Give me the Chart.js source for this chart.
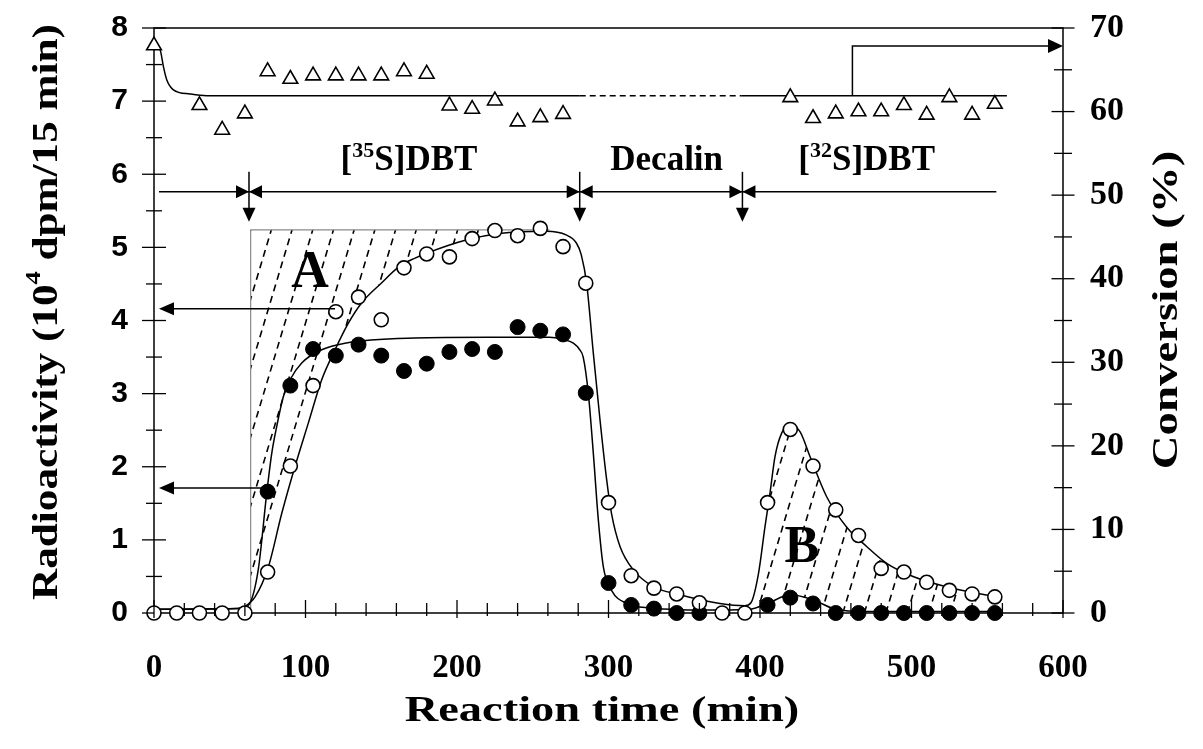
<!DOCTYPE html>
<html><head><meta charset="utf-8">
<script src="https://cdn.jsdelivr.net/npm/chart.js@4/dist/chart.umd.min.js"></script>
<style>html,body{margin:0;padding:0;background:#fff;}#wrap{width:1203px;height:749px;}</style>
</head><body><div id="wrap"><canvas id="c" width="1203" height="749"></canvas></div>
<script>
// ---- data ----
const xTicks = [0,100,200,300,400,500,600];
const yLeftTicks = [0,1,2,3,4,5,6,7,8];
const yRightTicks = [0,10,20,30,40,50,60,70];

const openT = [0,15,30,45,60,75,90,105,120,135,150,165,180,195,210,225,240,255,270,285,300,315,330,345,360,375,390,405,420,435,450,465,480,495,510,525,540,555];
const openR = [0,0,0,0,0,0.56,2.01,3.11,4.12,4.32,4.01,4.72,4.91,4.87,5.12,5.23,5.16,5.26,5.01,4.51,1.51,0.51,0.34,0.26,0.14,0,0,1.51,2.51,2.01,1.41,1.06,0.61,0.56,0.42,0.31,0.26,0.22];

const filledT = [75,90,105,120,135,150,165,180,195,210,225,240,255,270,285,300,315,330,345,360,405,420,435,450,465,480,495,510,525,540,555];
const filledR = [1.66,3.11,3.61,3.52,3.67,3.52,3.31,3.41,3.57,3.61,3.57,3.91,3.86,3.81,3.01,0.41,0.11,0.06,0,0,0.11,0.21,0.13,0,0,0,0,0,0,0,0];

const convT = [0,30,45,60,75,90,105,120,135,150,165,180,195,210,225,240,255,270,420,435,450,465,480,495,510,525,540,555];
const convV = [67.9,60.75,57.8,59.75,64.8,63.9,64.3,64.3,64.3,64.3,64.8,64.5,60.7,60.3,61.3,58.8,59.3,59.7,61.7,59.2,59.75,60.0,60.0,60.75,59.6,61.7,59.6,60.9];

const openFitT = [0,55,60,66.7,75.5,84.3,93,101.9,110.7,119.5,128.2,137,150,162,172,180,206,228,259,272,278.8,282,285.6,290,294.4,298.8,302,307.6,316.4,329.6,347,373.6,390,394,399,403.3,406.6,409.9,414.3,419.8,426.4,433,444,457,470.4,483.6,501,523,556];
const openFitV = [0.05,0.06,0.09,0.22,0.63,1.36,2.0,2.6,3.19,3.6,3.96,4.24,4.51,4.74,4.85,4.92,5.1,5.19,5.22,5.17,5.06,4.9,4.5,3.55,2.64,1.82,1.36,0.91,0.59,0.36,0.25,0.13,0.1,0.14,0.54,1.18,1.64,2.14,2.46,2.57,2.48,2.14,1.59,1.18,0.91,0.68,0.5,0.36,0.22];

const filledFitT = [0,55,62,68.8,74.4,77.7,81,85.4,89.8,97.5,110.7,126,172,220,261,270,276.8,281,283.3,286.7,290,293.3,296.6,302,312,327,374,393,405,420,435,450,470,556];
const filledFitV = [0.05,0.06,0.1,0.59,1.64,2.18,2.55,2.96,3.19,3.42,3.6,3.69,3.76,3.77,3.77,3.74,3.69,3.6,3.5,3.0,2.18,1.27,0.63,0.31,0.13,0.07,0.04,0.05,0.13,0.25,0.18,0.05,0.02,0.02];

const convFitT = [0,4,6.2,8.4,12.8,23.8,34.8,281,388,563];
const convFitV = [67.9,67.4,65.4,63.8,62.6,62.1,61.9,61.9,61.9,61.9];
const convDashFrom = 281, convDashTo = 388;

// annotations (data units)
const hatchA = {x0: 63.8, top: 5.24, x1: 261};
const hatchB = {x0: 393, x1: 556};
const feedArrows = [{y: 4.16, x: 119.5}, {y: 1.71, x: 72.6}];
const phaseY = 5.76, phaseStart = 3.3, phaseEnd = 556;
const phaseMarks = [62.7, 281, 388.4];
const phaseLabels = [
  {x: 168.3, parts: [['[',0],['35',1],['S]DBT',0]]},
  {x: 338.4, parts: [['Decalin',0]]},
  {x: 470.4, parts: [['[',0],['32',1],['S]DBT',0]]}
];
const phaseLabelY = 6.06;
const areaLabels = [{t:'A', x:103, y:4.46}, {t:'B', x:427.7, y:0.70}];
const convArrow = {x: 461, from: 61.9, to: 67.85};

const SERIF = "'Liberation Serif','Times New Roman',serif";
const SANS = "'Liberation Sans',Arial,sans-serif";

function pts(xs, ys){ return xs.map((x,i)=>({x, y: ys[i]})); }

function richWidth(ctx, parts, size, fam){
  let w = 0;
  for (const [t, sup] of parts){ ctx.font = `bold ${sup? Math.round(size*0.62): size}px ${fam}`; w += ctx.measureText(t).width; }
  return w;
}
function drawRich(ctx, parts, cx, cy, size, fam, sx, rot, baseline){
  ctx.save();
  ctx.translate(cx, cy); ctx.rotate(rot||0); ctx.scale(sx||1, 1);
  ctx.fillStyle = '#000'; ctx.textBaseline = baseline || 'middle'; ctx.textAlign = 'left';
  const w = richWidth(ctx, parts, size, fam);
  let x = -w/2;
  for (const [t, sup] of parts){
    ctx.font = `bold ${sup? Math.round(size*0.62): size}px ${fam}`;
    ctx.fillText(t, x, sup ? -size*0.38 : 0);
    x += ctx.measureText(t).width;
  }
  ctx.restore();
}
function arrowHead(ctx, tx, ty, dir, len, half){
  ctx.beginPath();
  if (dir==='l'){ ctx.moveTo(tx,ty); ctx.lineTo(tx+len,ty-half); ctx.lineTo(tx+len,ty+half); }
  else if (dir==='r'){ ctx.moveTo(tx,ty); ctx.lineTo(tx-len,ty-half); ctx.lineTo(tx-len,ty+half); }
  else { ctx.moveTo(tx,ty); ctx.lineTo(tx-half,ty-len); ctx.lineTo(tx+half,ty-len); }
  ctx.closePath(); ctx.fill();
}
function hatch(ctx, area, left, right, top, bottom, spacing, slope){
  ctx.save();
  ctx.beginPath();
  area.forEach((p,i)=> i? ctx.lineTo(p[0],p[1]) : ctx.moveTo(p[0],p[1]));
  ctx.closePath(); ctx.clip();
  ctx.setLineDash([7,5]); ctx.lineWidth = 1.6; ctx.strokeStyle = '#000';
  const h = bottom - top;
  for (let x0 = left - h*slope; x0 < right + spacing; x0 += spacing){
    ctx.beginPath(); ctx.moveTo(x0, bottom); ctx.lineTo(x0 + h*slope, top); ctx.stroke();
  }
  ctx.restore();
}

const annot = {
  id: 'annot',
  beforeDatasetsDraw(chart){
    const ctx = chart.ctx, X = v=>chart.scales.x.getPixelForValue(v), Y = v=>chart.scales.y.getPixelForValue(v);
    const polyA = [[X(hatchA.x0), Y(hatchA.top)], [X(hatchA.x1), Y(hatchA.top)]];
    for (let i = openFitT.length-1; i>=0; i--) if (openFitT[i] <= hatchA.x1 && openFitT[i] >= hatchA.x0) polyA.push([X(openFitT[i]), Y(openFitV[i])]);
    polyA.push([X(hatchA.x0), Y(0.1)]);
    hatch(ctx, polyA, X(hatchA.x0), X(hatchA.x1), Y(hatchA.top), Y(0), 20.7, 0.3);
    const polyB = [];
    for (let i=0;i<openFitT.length;i++) if (openFitT[i] >= hatchB.x0 && openFitT[i] <= hatchB.x1) polyB.push([X(openFitT[i]), Y(openFitV[i])]);
    for (let i=filledFitT.length-1;i>=0;i--) if (filledFitT[i] >= hatchB.x0 && filledFitT[i] <= hatchB.x1) polyB.push([X(filledFitT[i]), Y(filledFitV[i])]);
    hatch(ctx, polyB, X(hatchB.x0), X(hatchB.x1), Y(2.6), Y(0), 21.5, 0.3);
    ctx.save(); ctx.strokeStyle = '#8a8a8a'; ctx.lineWidth = 1.2;
    ctx.beginPath(); ctx.moveTo(X(hatchA.x0), Y(0)); ctx.lineTo(X(hatchA.x0), Y(hatchA.top)); ctx.lineTo(X(hatchA.x1), Y(hatchA.top)); ctx.stroke();
    ctx.restore();
    // frame under the points
    const a = chart.chartArea;
    ctx.save(); ctx.strokeStyle = '#000'; ctx.lineWidth = 1.5;
    ctx.beginPath(); ctx.rect(a.left, a.top, a.right-a.left, a.bottom-a.top); ctx.stroke();
    ctx.restore();
  },
  afterDatasetsDraw(chart){
    const ctx = chart.ctx, a = chart.chartArea;
    const sx = chart.scales.x, sy = chart.scales.y, sy2 = chart.scales.y2;
    const X = v=>sx.getPixelForValue(v), Y = v=>sy.getPixelForValue(v), Y2 = v=>sy2.getPixelForValue(v);
    ctx.save();
    ctx.strokeStyle = '#000'; ctx.fillStyle = '#000'; ctx.setLineDash([]);
    ctx.lineWidth = 1.3;
    for (let v = 0; v <= 600; v += 20){
      const p = X(v), major = v % 100 === 0;
      ctx.beginPath(); ctx.moveTo(p, a.bottom - (major? 13 : 10)); ctx.lineTo(p, a.bottom + (major? 5 : 3)); ctx.stroke();
    }
    for (let v = 0; v <= 8; v += 0.5){
      const p = Y(v), h = Number.isInteger(v) ? 12 : 8;
      ctx.beginPath(); ctx.moveTo(a.left - h, p); ctx.lineTo(a.left + (v === 0 ? 0 : h), p); ctx.stroke();
    }
    for (let v = 0; v <= 70; v += 5){
      const p = Y2(v), h = v % 10 === 0 ? 11.5 : 9;
      ctx.beginPath(); ctx.moveTo(a.right - h, p); ctx.lineTo(a.right + h, p); ctx.stroke();
    }
    ctx.textBaseline = 'middle';
    ctx.font = `bold 33px ${SERIF}`; ctx.textAlign = 'center';
    xTicks.forEach(v => ctx.fillText(String(v), X(v), 668));
    ctx.font = `bold 30px ${SANS}`; ctx.textAlign = 'right';
    yLeftTicks.forEach(v => ctx.fillText(String(v), 128, Y(v)));
    ctx.font = `bold 34px ${SERIF}`; ctx.textAlign = 'left';
    yRightTicks.forEach(v => ctx.fillText(String(v), 1090, Y2(v)));
    drawRich(ctx, [['Reaction time (min)',0]], 602, 712, 36, SERIF, 1.29, 0);
    drawRich(ctx, [['Radioactivity (10',0],['4',1],[' dpm/15 min)',0]], 48, 312, 36, SERIF, 1.2, -Math.PI/2);
    drawRich(ctx, [['Conversion (%)',0]], 1168, 310, 36, SERIF, 1.3, -Math.PI/2);
    ctx.lineWidth = 1.5;
    feedArrows.forEach(f => {
      const py = Y(f.y);
      ctx.beginPath(); ctx.moveTo(X(f.x), py); ctx.lineTo(a.left + 18, py); ctx.stroke();
      arrowHead(ctx, a.left + 5, py, 'l', 15, 6.5);
    });
    const py = Y(phaseY);
    ctx.beginPath(); ctx.moveTo(X(phaseStart), py); ctx.lineTo(X(phaseEnd), py); ctx.stroke();
    phaseMarks.forEach(m => {
      const px = X(m);
      arrowHead(ctx, px, py, 'r', 13, 6.5);
      arrowHead(ctx, px, py, 'l', 13, 6.5);
      ctx.beginPath(); ctx.moveTo(px, py - 20); ctx.lineTo(px, py + 18); ctx.stroke();
      arrowHead(ctx, px, py + 30, 'd', 14, 6.5);
    });
    phaseLabels.forEach(l => drawRich(ctx, l.parts, X(l.x), Y(phaseLabelY), 35, SERIF, 1, 0, 'alphabetic'));
    const cx = X(convArrow.x);
    ctx.beginPath(); ctx.moveTo(cx, Y2(convArrow.from)); ctx.lineTo(cx, Y2(convArrow.to)); ctx.lineTo(a.right - 12, Y2(convArrow.to)); ctx.stroke();
    arrowHead(ctx, a.right, Y2(convArrow.to), 'r', 15, 7);
    ctx.font = `bold 52px ${SERIF}`; ctx.textAlign = 'center'; ctx.textBaseline = 'alphabetic';
    areaLabels.forEach(l => ctx.fillText(l.t, X(l.x), Y(l.y)));
    ctx.restore();
  }
};

const lineStyle = {showLine: true, pointRadius: 0, borderColor: '#000', borderWidth: 1.5, cubicInterpolationMode: 'monotone', fill: false};

new Chart(document.getElementById('c'), {
  type: 'scatter',
  data: {
    datasets: [
      {label: 'Conversion', data: pts(convT, convV), yAxisID: 'y2', clip: false, pointStyle: 'triangle', pointRadius: 8.5, backgroundColor: '#fff', borderColor: '#000', borderWidth: 1.6},
      {label: 'Outlet (open)', data: pts(openT, openR), yAxisID: 'y', clip: false, pointStyle: 'circle', pointRadius: 7, backgroundColor: '#fff', borderColor: '#000', borderWidth: 1.6},
      {label: 'Outlet (filled)', data: pts(filledT, filledR), yAxisID: 'y', clip: false, pointStyle: 'circle', pointRadius: 7.5, backgroundColor: '#000', borderColor: '#000', borderWidth: 1},
      Object.assign({label: 'fit open', data: pts(openFitT, openFitV), yAxisID: 'y'}, lineStyle),
      Object.assign({label: 'fit filled', data: pts(filledFitT, filledFitV), yAxisID: 'y'}, lineStyle),
      Object.assign({label: 'fit conv', data: pts(convFitT, convFitV), yAxisID: 'y2',
        segment: {borderDash: c => (c.p0.parsed.x >= convDashFrom - 0.01 && c.p1.parsed.x <= convDashTo + 0.01) ? [6,4] : undefined}}, lineStyle)
    ]
  },
  options: {
    responsive: false, animation: false, devicePixelRatio: 1,
    layout: {padding: {top: 28, left: 0, right: 0, bottom: 0}},
    plugins: {legend: {display: false}, tooltip: {enabled: false}},
    scales: {
      x: {type: 'linear', min: 0, max: 600, ticks: {display: false, stepSize: 100}, grid: {display: false}, border: {display: false},
          afterFit: s => { s.height = 136; }},
      y: {position: 'left', min: 0, max: 8, ticks: {display: false, stepSize: 1}, grid: {display: false}, border: {display: false},
          afterFit: s => { s.width = 154; }},
      y2: {position: 'right', min: 0, max: 70, ticks: {display: false, stepSize: 10}, grid: {display: false}, border: {display: false},
          afterFit: s => { s.width = 140; }}
    }
  },
  plugins: [annot]
});
</script>
</body></html>
